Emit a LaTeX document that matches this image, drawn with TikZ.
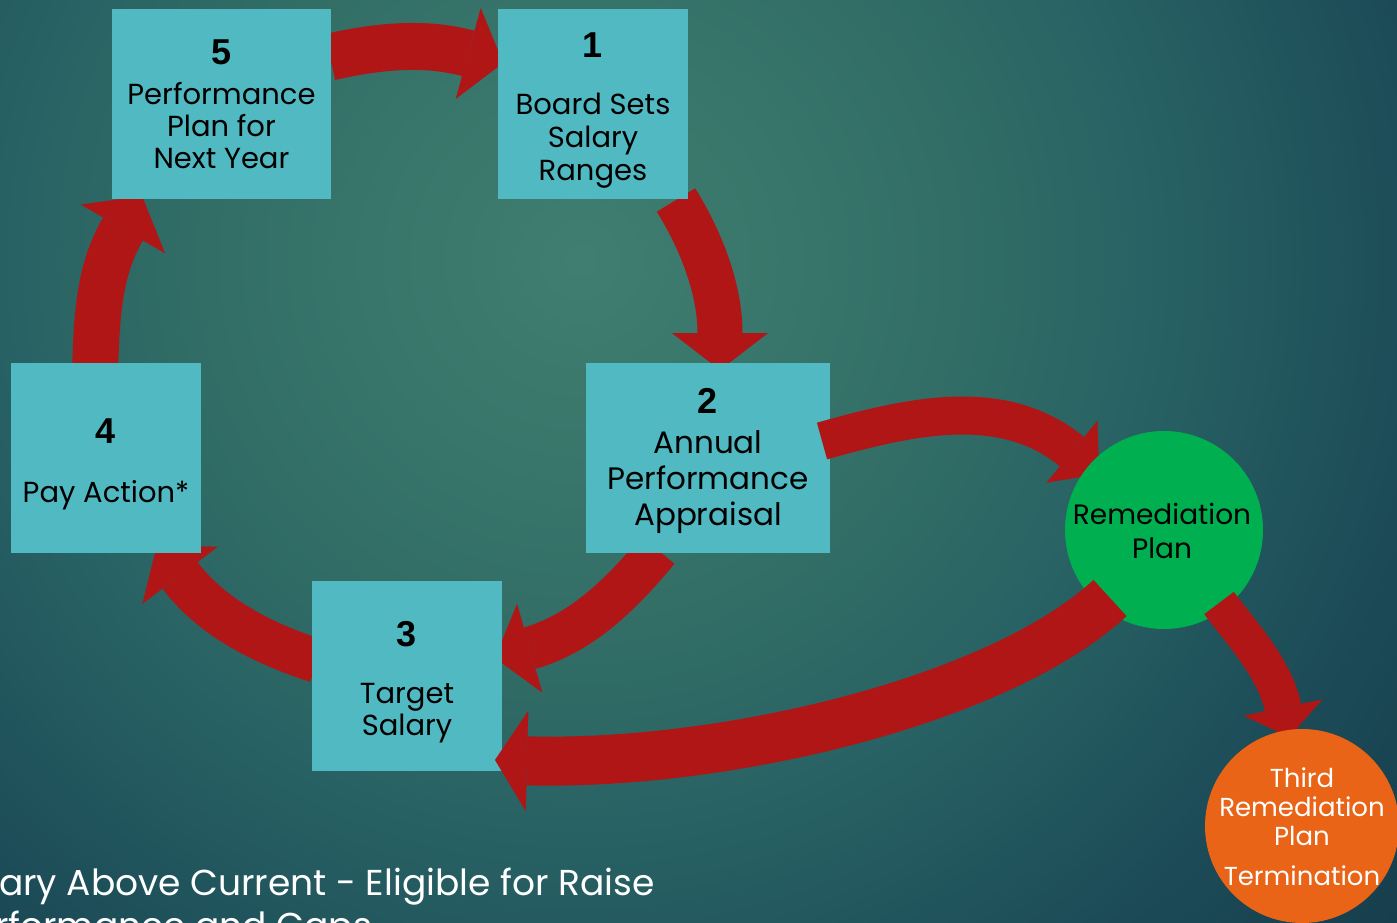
\documentclass[tikz,border=0pt]{standalone}
\usepackage{fontspec}
\setmainfont{Poppins}
\newfontfamily\numfont{Liberation Sans}
\usetikzlibrary{arrows.meta,calc}

\definecolor{boxc}{RGB}{80,185,194}
\definecolor{arrowred}{RGB}{176,22,22}
\definecolor{remgreen}{RGB}{0,176,80}
\definecolor{termorange}{RGB}{233,100,22}

\pgfdeclareradialshading{bgshade}{\pgfpoint{0bp}{0bp}}{rgb(0bp)=(0.25,0.495,0.44); rgb(9bp)=(0.196,0.431,0.40); rgb(14bp)=(0.155,0.38,0.39); rgb(20bp)=(0.11,0.30,0.345); rgb(25bp)=(0.09,0.245,0.30); rgb(50bp)=(0.09,0.245,0.30)}

\tikzset{
  boxnode/.style={fill=boxc, minimum width=#1, minimum height=190pt, inner sep=0pt},
  numtxt/.style={font=\numfont\bfseries\fontsize{36}{36}\selectfont, text=black, inner sep=0pt},
  lbl/.style 2 args={font=\fontsize{#1}{#2}\selectfont, align=center, text=black, inner sep=0pt},
  redarrow/.style={draw=arrowred, line width=#1},
  bottomtxt/.style={anchor=base west, inner sep=0pt, text=white, font=\fontsize{36}{42}\selectfont},
}

\begin{document}
\begin{tikzpicture}[x=1pt,y=-1pt]
\useasboundingbox (0,0) rectangle (1397,923);
\begin{scope}
  \clip (0,0) rectangle (1397,923);
  \shade[shading=bgshade] (-460,-780) rectangle (1620,1300);
\end{scope}

% arrows under the boxes
\coordinate (a1s) at (330,57);   \coordinate (a1e) at (503,63);
\coordinate (a2s) at (676,200);  \coordinate (a2e) at (720,370);
\coordinate (a3s) at (658,550);  \coordinate (a3e) at (495,658);
\coordinate (a4s) at (317,661);  \coordinate (a4e) at (157,545);
\coordinate (a5s) at (95,370);   \coordinate (a5e) at (142,196);
\coordinate (a6s) at (822,441);  \coordinate (a6e) at (1099,474);
\coordinate (a7s) at (1110,598); \coordinate (a7e) at (495,760);
\coordinate (a8s) at (1219,603); \coordinate (a8e) at (1289,737);

\draw[redarrow=47pt, -{Triangle[width=94pt,length=36pt,line width=0.1pt]}]
  (a1s) .. controls (374,47) and (423,41) .. (a1e);
\draw[redarrow=45pt, -{Triangle[width=96pt,length=37pt,line width=0.1pt]}]
  (a2s) .. controls (702,242) and (720,290) .. (a2e);
\draw[redarrow=43pt, -{Triangle[width=92pt,length=36pt,line width=0.1pt]}]
  (a3s) .. controls (623,592) and (583,633) .. (a3e);
\draw[redarrow=44pt, -{Triangle[width=94pt,length=38pt,line width=0.1pt]}]
  (a4s) .. controls (265,644) and (213,619) .. (a4e);
\draw[redarrow=46pt, -{Triangle[width=97pt,length=38pt,line width=0.1pt]}]
  (a5s) .. controls (97,318) and (98,272) .. (a5e);

% boxes
\node[boxnode=219pt] (b5) at (221.5,104) {};
\node[boxnode=190pt] (b1) at (593,104) {};
\node[boxnode=244pt] (b2) at (708,458) {};
\node[boxnode=190pt] (b4) at (106,458) {};
\node[boxnode=190pt] (b3) at (407,676) {};

% arrow from box 2 to the green circle (over box 2, under the circle)
\draw[redarrow=38pt, -{Triangle[width=80pt,length=35pt,line width=0.1pt]}]
  (a6s) .. controls (908,417) and (1002,394) .. (a6e);

\node[circle, fill=remgreen, minimum size=198pt, inner sep=0pt] (rem) at (1164,530) {};

% arrows over the green circle
\draw[redarrow=49pt, -{Triangle[width=100pt,length=32pt,line width=0.1pt]}]
  (a7s) .. controls (1000,700) and (727,766) .. (a7e);
\draw[redarrow=37pt, -{Triangle[width=80pt,length=30pt,line width=0.1pt]}]
  (a8s) .. controls (1243,635) and (1275,669) .. (a8e);

\node[circle, fill=termorange, minimum size=194pt, inner sep=0pt] (term) at (1302,826) {};

% texts
\node[numtxt] (n5) at (221.5,52) {5};
\node[lbl={29}{32}] (t5) at (221.5,126) {Performance\\Plan for\\Next Year};
\node[numtxt] (n1) at (593,45) {1};
\node[lbl={29}{33}] (t1) at (593,141) {Board Sets\\Salary\\Ranges};
\node[numtxt] (n2) at (708,401) {2};
\node[lbl={31}{36}] (t2) at (708,482) {Annual\\Performance\\Appraisal};
\node[numtxt] (n4) at (106,431) {4};
\node[lbl={29}{32}] (t4) at (106,495) {Pay Action*};
\node[numtxt] (n3) at (407,634) {3};
\node[lbl={29}{32}] (t3) at (407,713) {Target\\Salary};
\node[lbl={28}{34}] (tr) at (1162,531) {Remediation\\Plan};
\node[lbl={26}{29}, text=white] (tt) at (1302,807) {Third\\Remediation\\Plan};
\node[lbl={26}{29}, text=white] (tt2) at (1302,876) {Termination};

\node[bottomtxt] (bt1) at (-1,895) {ary Above Current - Eligible for Raise};
\node[bottomtxt] (bt2) at (-5,938) {rformance and Gaps};
\end{tikzpicture}
\end{document}
